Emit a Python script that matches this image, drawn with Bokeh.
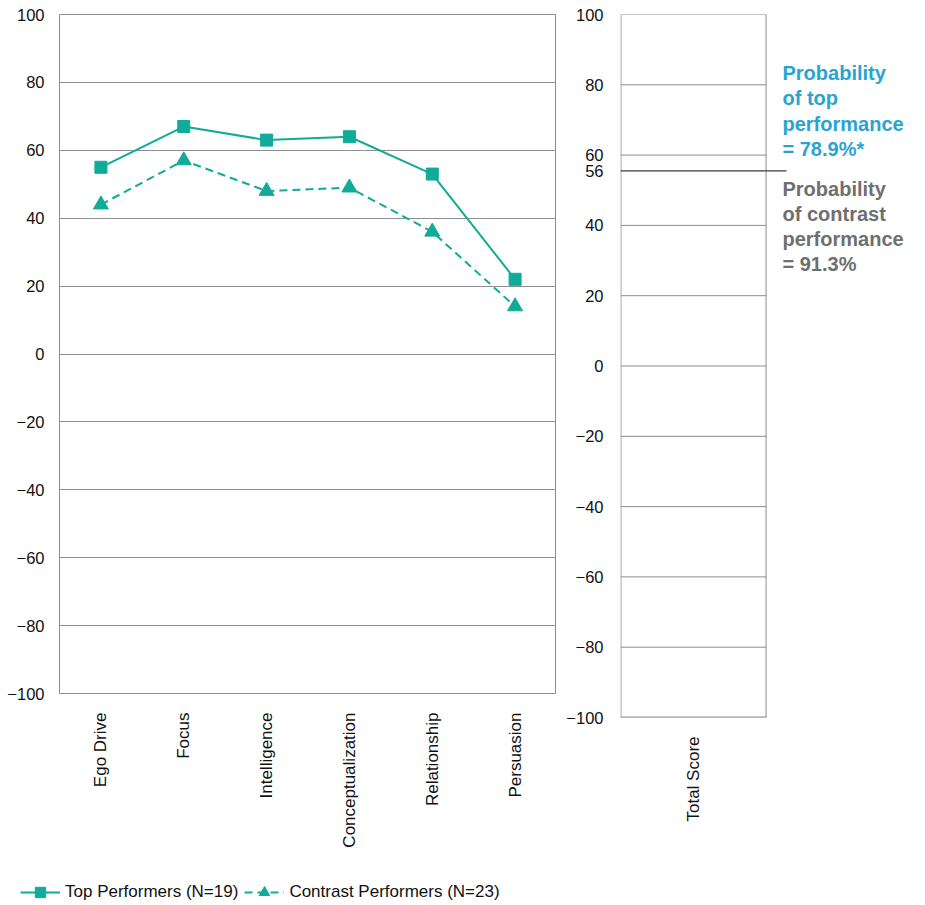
import math
from bokeh.plotting import figure
from bokeh.models import (Range1d, FactorRange, FixedTicker, Legend, LegendItem,
                          Label, Spacer)
from bokeh.layouts import row, column
from bokeh.embed import file_html
from bokeh.resources import INLINE

# ---------------- data ----------------
categories = ["Ego Drive", "Focus", "Intelligence", "Conceptualization",
              "Relationship", "Persuasion"]
top_performers = [55, 67, 63, 64, 53, 22]
contrast_performers = [44, 57, 48, 49, 36, 14]
total_category = ["Total Score"]
total_score = 55.5
y_ticks = [-100, -80, -60, -40, -20, 0, 20, 40, 60, 80, 100]
top_label = "Top Performers (N=19)"
contrast_label = "Contrast Performers (N=23)"
prob_top_text = "Probability\nof top\nperformance\n= 78.9%*"
prob_contrast_text = "Probability\nof contrast\nperformance\n= 91.3%"

# ---------------- style ----------------
TEAL = "#10AB99"
BLUE = "#2BA3D2"
GREYTXT = "#6F6F6F"
GRID = "#8E8E8E"
FONT = "Liberation Sans"
FS = "16.5px"


def style(p, ticks, standoff):
    p.yaxis.ticker = FixedTicker(ticks=ticks)
    for ax in (p.xaxis, p.yaxis):
        ax.axis_line_color = None
        ax.major_tick_line_color = None
        ax.minor_tick_line_color = None
        ax.major_tick_out = 0
        ax.major_tick_in = 0
        ax.minor_tick_out = 0
        ax.major_label_text_font = FONT
        ax.major_label_text_font_size = FS
        ax.major_label_text_color = "#111111"
    p.yaxis.major_label_standoff = standoff
    p.xaxis.major_label_orientation = math.pi / 2
    p.xaxis.major_label_standoff = 19
    p.xaxis.major_label_text_font_size = "17px"
    p.background_fill_color = "white"
    p.border_fill_color = "white"


# ---------------- left chart ----------------
p1 = figure(x_range=FactorRange(*categories), y_range=Range1d(-100, 100),
            frame_width=497, frame_height=679,
            min_border_top=14, min_border_left=0, min_border_right=0,
            min_border_bottom=0,
            output_backend="svg", toolbar_location=None)
style(p1, y_ticks, 15)
p1.ygrid.ticker = FixedTicker(ticks=y_ticks)
p1.ygrid.grid_line_color = GRID
p1.xgrid.grid_line_color = None
p1.outline_line_color = GRID

p1.line(categories, top_performers, line_color=TEAL, line_width=2)
p1.scatter(categories, top_performers, marker="square", size=12,
           fill_color=TEAL, line_color=TEAL)
p1.line(categories, contrast_performers, line_color=TEAL, line_width=2,
        line_dash="8 5")
p1.scatter(categories, contrast_performers, marker="triangle", size=15,
           fill_color=TEAL, line_color=TEAL)

# ---------------- legend strip ----------------
p3 = figure(x_range=FactorRange(*categories), y_range=Range1d(1000, 1001),
            width=557, height=55, min_border=0,
            x_axis_location=None, y_axis_location=None,
            output_backend="svg", toolbar_location=None)
p3.grid.grid_line_color = None
p3.outline_line_color = None
p3.border_fill_color = "white"
g1 = p3.line(categories, top_performers, line_color=TEAL, line_width=2)
g2 = p3.scatter(categories, top_performers, marker="square", size=12,
                fill_color=TEAL, line_color=TEAL)
g3 = p3.line(categories, contrast_performers, line_color=TEAL, line_width=2,
             line_dash="8 5")
g4 = p3.scatter(categories, contrast_performers, marker="triangle", size=15,
                fill_color=TEAL, line_color=TEAL)
legend = Legend(items=[LegendItem(label=top_label, renderers=[g1, g2]),
                       LegendItem(label=contrast_label, renderers=[g3, g4])],
                orientation="horizontal", location=(20, 0),
                glyph_width=40, glyph_height=26, label_standoff=5, spacing=6,
                padding=0, margin=0,
                label_text_font=FONT, label_text_font_size="17px",
                label_text_color="#111111",
                border_line_color=None, background_fill_alpha=0)
p3.add_layout(legend, "center")

# ---------------- right chart ----------------
FW2 = 146  # width of the score box in pixels
FR = 292   # full frame width of the right panel
p2 = figure(x_range=Range1d(0, FR / FW2), y_range=Range1d(-100, 100),
            frame_width=FR, frame_height=703,
            min_border_top=14, min_border_left=0, min_border_right=0,
            min_border_bottom=0,
            output_backend="svg", toolbar_location=None)
style(p2, y_ticks + [total_score], 17)
p2.yaxis.major_label_overrides = {total_score: f"{round(total_score)}"}
p2.xaxis.ticker = FixedTicker(ticks=[0.5])
p2.xaxis.major_label_overrides = {0.5: total_category[0]}
p2.grid.grid_line_color = None
p2.outline_line_color = None

# grid lines and box of the score panel
p2.segment(x0=0, x1=1, y0=y_ticks, y1=y_ticks, line_color=GRID, line_width=1)
p2.segment(x0=[0.003, 0.997], x1=[0.003, 0.997], y0=-100, y1=100,
           line_color=GRID, line_width=1)
p2.segment(x0=0, x1=1, y0=-99.85, y1=-99.85, line_color=GRID, line_width=1)

# total score line
p2.segment(x0=0, x1=166 / FW2, y0=total_score, y1=total_score,
           line_color="#3A3A3A", line_width=1.3)

p2.add_layout(Label(x=162 / FW2, y=86.5, text=prob_top_text, text_font=FONT,
                    text_font_size="20px", text_font_style="bold",
                    text_color=BLUE, text_baseline="top",
                    text_line_height=1.15))
p2.add_layout(Label(x=162 / FW2, y=53.6, text=prob_contrast_text, text_font=FONT,
                    text_font_size="20px", text_font_style="bold",
                    text_color=GREYTXT, text_baseline="top",
                    text_line_height=1.15))

layout = column(row(Spacer(width=4), p1, Spacer(width=7), p2), p3)
open("out.html", "w").write(file_html(layout, INLINE))
